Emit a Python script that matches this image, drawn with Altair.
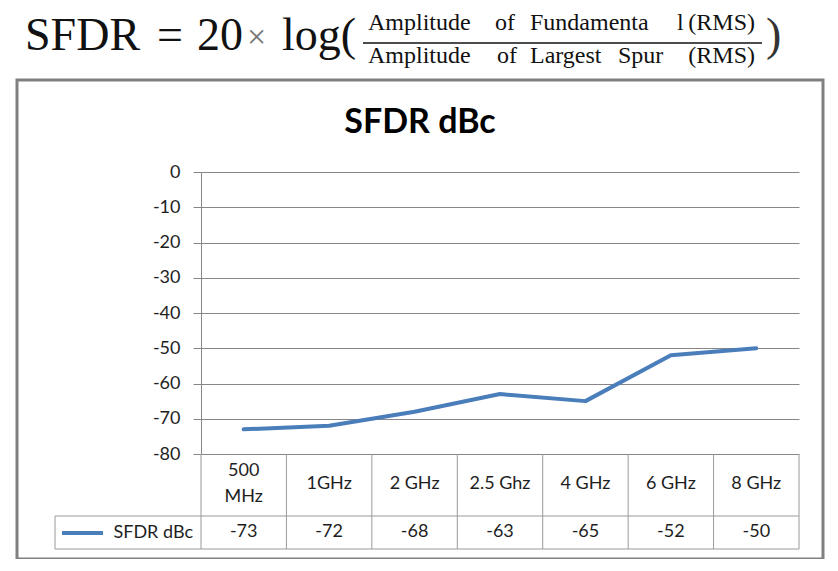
import altair as alt
import pandas as pd

# ---- data ----
categories = ["500 MHz", "1GHz", "2 GHz", "2.5 Ghz", "4 GHz", "6 GHz", "8 GHz"]
header_line1 = ["500", "1GHz", "2 GHz", "2.5 Ghz", "4 GHz", "6 GHz", "8 GHz"]
header_line2 = ["MHz", "", "", "", "", "", ""]
sfdr_dbc = [-73, -72, -68, -63, -65, -52, -50]
y_ticks = [0, -10, -20, -30, -40, -50, -60, -70, -80]
series_name = "SFDR dBc"
chart_title = "SFDR dBc"

W, H = 598, 282
BLUE = "#4a7ebb"
GRID = "#868686"
TABLE = "#9a9a9a"
TXT = "#1e1e1e"
SANS = "Lato"
SERIF = "Liberation Serif"

df = pd.DataFrame({
    "idx": list(range(len(categories))),
    "cat": categories,
    "h1": header_line1,
    "h2": header_line2,
    "val": sfdr_dbc,
    "valtxt": [str(v) for v in sfdr_dbc],
})
bdf = pd.DataFrame({"b": [i - 0.5 for i in range(len(categories) + 1)]})
dummy = pd.DataFrame({"a": [0]})

xscale = alt.Scale(domain=[-0.5, len(categories) - 0.5], nice=False, zero=False)
yscale = alt.Scale(domain=[-80, 0], nice=False)
XQ = alt.X("idx:Q", scale=xscale, axis=None)

line = alt.Chart(df).mark_line(
    color=BLUE, strokeWidth=4, strokeCap="round", strokeJoin="round"
).encode(
    x=XQ,
    y=alt.Y("val:Q", scale=yscale, axis=alt.Axis(
        values=y_ticks, title=None, grid=True, gridColor=GRID, gridWidth=1,
        domainColor=GRID, tickColor=GRID, tickSize=8, labelPadding=13,
        labelFont=SANS, labelFontSize=18, labelColor=TXT,
        labelExpr="toString(datum.value)",
    )),
)

col_rules = alt.Chart(bdf).mark_rule(color=TABLE, strokeWidth=1).encode(
    x=alt.X("b:Q", scale=xscale, axis=None),
    y=alt.value(H), y2=alt.value(377),
)


def hrule(x1, x2, y, color=TABLE, width=1):
    return alt.Chart(dummy).mark_rule(color=color, strokeWidth=width).encode(
        x=alt.value(x1), x2=alt.value(x2), y=alt.value(y)
    )


def vrule(x, y1, y2, color=TABLE, width=1):
    return alt.Chart(dummy).mark_rule(color=color, strokeWidth=width).encode(
        x=alt.value(x), y=alt.value(y1), y2=alt.value(y2)
    )


def label(txt, x, y, size, font=SANS, align="left", baseline="alphabetic",
          color=TXT, weight="normal"):
    return alt.Chart(dummy).mark_text(
        text=txt, font=font, fontSize=size, align=align, baseline=baseline,
        color=color, fontWeight=weight,
    ).encode(x=alt.value(x), y=alt.value(y))


table_lines = [
    hrule(-146, W, 344),
    hrule(-146, W, 377),
    vrule(-146, 344, 377),
]

hdr_style = dict(font=SANS, fontSize=18, baseline="middle", color=TXT)
header_single = alt.Chart(df).transform_filter("datum.h2 == ''").mark_text(**hdr_style).encode(
    x=XQ, y=alt.value(312), text="h1:N")
header_top = alt.Chart(df).transform_filter("datum.h2 != ''").mark_text(**hdr_style).encode(
    x=XQ, y=alt.value(299), text="h1:N")
header_bottom = alt.Chart(df).transform_filter("datum.h2 != ''").mark_text(**hdr_style).encode(
    x=XQ, y=alt.value(325), text="h2:N")

value_text = alt.Chart(df).mark_text(**hdr_style).encode(
    x=XQ, y=alt.value(360), text="valtxt:N")

legend_line = hrule(-139, -98, 361, color=BLUE, width=4)
legend_text = label(series_name, -8, 361, 18, align="right", baseline="middle")

title = label(chart_title, 219, -39, 34, align="center", weight="bold", color="#000")

border = alt.Chart(dummy).mark_rect(
    fillOpacity=0, stroke="#808080", strokeWidth=3
).encode(x=alt.value(-184), x2=alt.value(622), y=alt.value(-92), y2=alt.value(387))

# ---- formula header ----
FB = -122
FC = "#111"
NUM = -142
DEN = -109
FS = 24
formula = [
    label("SFDR", -176, FB, 46, font=SERIF, color=FC),
    label("=", -44, FB, 46, font=SERIF, color=FC),
    label("20", -4, FB, 46, font=SERIF, color=FC),
    label("\u00d7", 46, FB - 2, 34, font=SERIF, color="#777"),
    label("log(", 81, FB, 46, font=SERIF, color=FC),
    label(")", 565, FB, 46, font=SERIF, color="#333"),
    label("Amplitude", 167, NUM, FS, font=SERIF, color=FC),
    label("of", 294, NUM, FS, font=SERIF, color=FC),
    label("Fundamenta", 329, NUM, FS, font=SERIF, color=FC),
    label("l", 476, NUM, FS, font=SERIF, color=FC),
    label("(RMS)", 554, NUM, FS, font=SERIF, color=FC, align="right"),
    label("Amplitude", 167, DEN, FS, font=SERIF, color=FC),
    label("of", 296, DEN, FS, font=SERIF, color=FC),
    label("Largest", 329, DEN, FS, font=SERIF, color=FC),
    label("Spur", 417, DEN, FS, font=SERIF, color=FC),
    label("(RMS)", 554, DEN, FS, font=SERIF, color=FC, align="right"),
    hrule(162, 561, -129, color=FC, width=1.5),
]

chart = alt.layer(
    border, col_rules, *table_lines, line, header_single, header_top, header_bottom,
    value_text, legend_line, legend_text, title, *formula,
).properties(
    width=W, height=H,
    padding={"left": 193, "top": 164, "right": 31, "bottom": 105},
    autosize=alt.AutoSizeParams(type="none"),
    background="white",
).configure_view(strokeWidth=0)

chart.save("out.html", embed_options={"renderer": "svg", "actions": False})
